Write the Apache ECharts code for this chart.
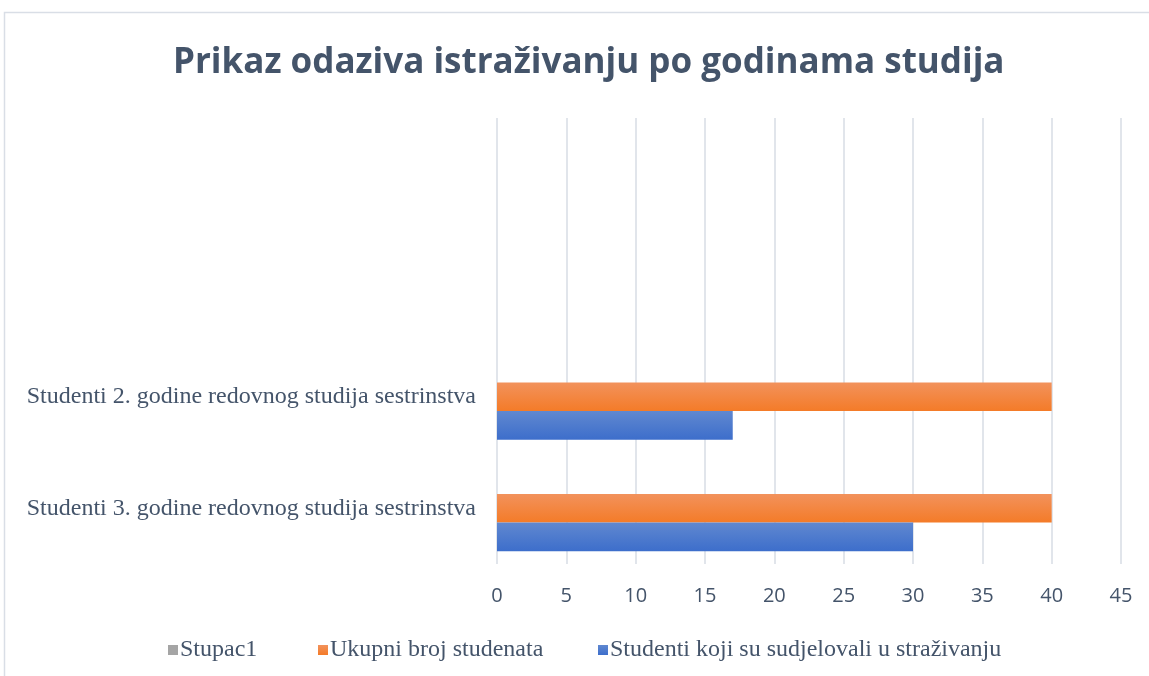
<!DOCTYPE html>
<html>
<head>
<meta charset="utf-8">
<script src="https://cdn.jsdelivr.net/npm/echarts@6/dist/echarts.min.js"></script>
<style>
  html, body { margin: 0; padding: 0; background: #fff; }
  #chart { width: 1149px; height: 676px; }
</style>
</head>
<body>
<div id="chart"></div>
<script>
// kategorije (odozdo prema gore), zadnje dvije su prazne
var categories = ['Studenti 3. godine redovnog studija sestrinstva', 'Studenti 2. godine redovnog studija sestrinstva', '', ''];
var seriesNames = ['Stupac1', 'Ukupni broj studenata', 'Studenti koji su sudjelovali u straživanju'];
var stupac1 = [null, null, null, null];
var ukupno = [40, 40, null, null];
var sudjelovali = [30, 17, null, null];
var xTicks = [0, 5, 10, 15, 20, 25, 30, 35, 40, 45];

var textColor = '#44546a';
var legendLeft = [163, 313, 593];

function grad (top, bottom) {
  return new echarts.graphic.LinearGradient(0, 0, 0, 1, [
    { offset: 0, color: top },
    { offset: 1, color: bottom }
  ]);
}

// jedna legenda po seriji, da razmaci budu kao u originalu
var legends = seriesNames.map(function (name, i) {
  return {
    left: legendLeft[i],
    top: 633,
    itemWidth: 10,
    itemHeight: 10,
    icon: 'rect',
    data: [name],
    textStyle: {
      fontFamily: 'Liberation Serif',
      fontSize: 24,
      color: textColor,
      padding: [0, 0, 0, -3]
    }
  };
});

var chart = echarts.init(document.getElementById('chart'));
var option = {
  animation: false,
  title: {
    text: 'Prikaz odaziva istraživanju po godinama studija',
    left: 168,
    top: 41,
    textStyle: {
      fontFamily: 'Open Sans',
      fontWeight: 'bold',
      fontSize: 35,
      color: textColor
    }
  },
  graphic: [{
    type: 'rect',
    shape: { x: 4.5, y: 12.5, width: 1160, height: 700 },
    style: { fill: 'none', stroke: '#d9dee6', lineWidth: 1.5 },
    silent: true
  }],
  legend: legends,
  grid: {
    left: 497,
    right: 28,
    top: 118,
    bottom: 112
  },
  xAxis: {
    type: 'value',
    min: 0,
    max: 45,
    interval: 5,
    axisLine: { show: false },
    axisTick: { show: false },
    axisLabel: {
      margin: 22,
      fontFamily: 'Open Sans',
      fontSize: 20,
      color: textColor,
      formatter: function (v) { return xTicks.indexOf(v) >= 0 ? String(v) : ''; }
    },
    splitLine: { lineStyle: { color: '#e1e5eb', width: 2 } }
  },
  yAxis: {
    type: 'category',
    data: categories,
    axisLine: { show: false },
    axisTick: { show: false },
    axisLabel: {
      margin: 21,
      fontFamily: 'Liberation Serif',
      fontSize: 24,
      color: textColor
    }
  },
  series: [{
    name: seriesNames[0],
    type: 'bar',
    data: stupac1,
    barGap: '0%',
    barCategoryGap: '23%',
    itemStyle: { color: '#a5a5a5' }
  }, {
    name: seriesNames[1],
    type: 'bar',
    data: ukupno,
    barGap: '0%',
    barCategoryGap: '23%',
    itemStyle: { color: grad('#f2925c', '#f47b28') }
  }, {
    name: seriesNames[2],
    type: 'bar',
    data: sudjelovali,
    barGap: '0%',
    barCategoryGap: '23%',
    itemStyle: { color: grad('#6088d0', '#3d6ecb') }
  }]
};
chart.setOption(option);
</script>
</body>
</html>
